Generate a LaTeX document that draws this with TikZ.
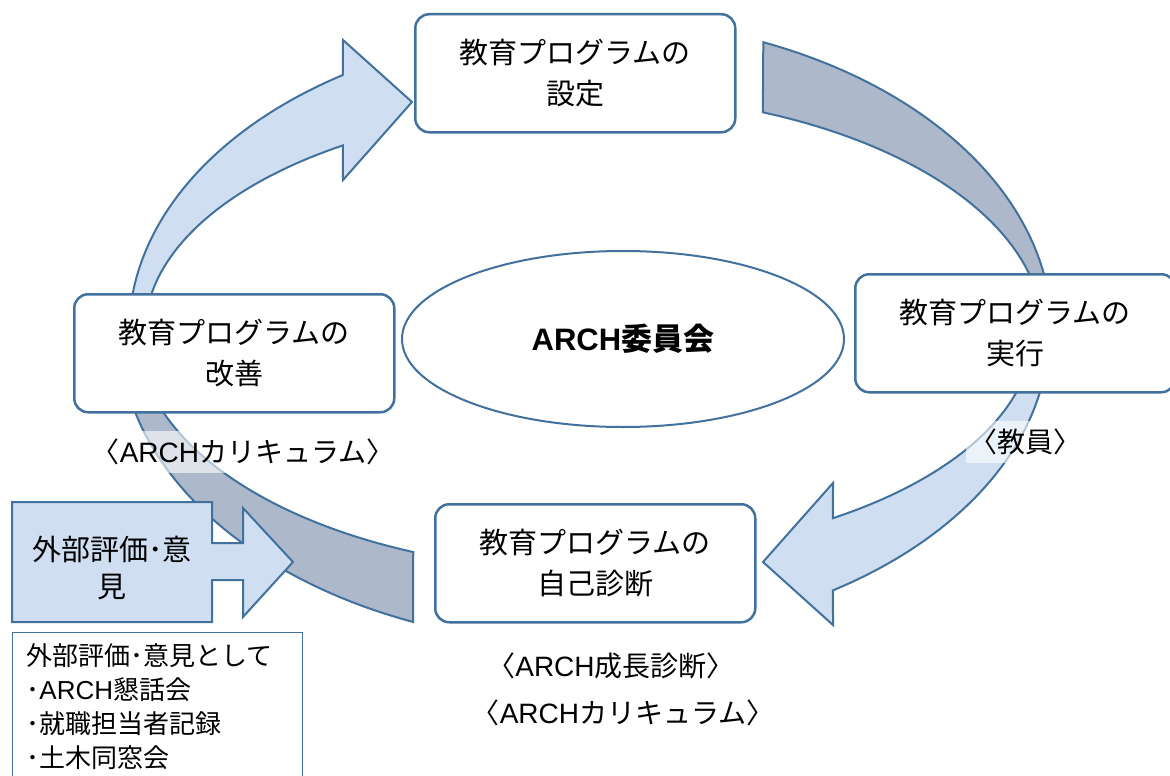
\documentclass[tikz,border=0pt]{standalone}
\usepackage{fontspec}
\setmainfont{Noto Sans CJK JP}
\newfontfamily\latin{Liberation Sans}
\newcommand{\ARCH}{{\latin ARCH}}
\usetikzlibrary{shapes.geometric}
\definecolor{trait}{RGB}{65,113,156}
\definecolor{clair}{RGB}{207,223,241}
\definecolor{fonce}{RGB}{173,185,202}
\tikzstyle{boite} = [rectangle, rounded corners=14pt, draw=trait, line width=2.5pt, fill=white, minimum width=320pt, minimum height=118pt, align=center, font=\fontsize{29}{41}\selectfont]
\tikzstyle{claire} = [draw=trait, line width=2pt, fill=clair, line join=miter]
\tikzstyle{foncee} = [draw=trait, line width=2pt, fill=fonce, line join=miter]
\tikzstyle{legende} = [font=\fontsize{28}{32}\selectfont, inner ysep=8pt, fill=white, fill opacity=0.6, text opacity=1]

\begin{document}
\begin{tikzpicture}[x=1pt, y=-1pt]
        \useasboundingbox (0,0) rectangle (1170,776);
        \clip (0,0) rectangle (1170,776);

        % fleches du cycle
        \draw [claire] plot[domain=175:122.3, samples=40] ({588+459*cos(\x)},{332-304*sin(\x)})
            -- (343,40) -- (412,102) -- (343,180)
            -- plot[domain=123.6:175, samples=40] ({588+443*cos(\x)},{332-224*sin(\x)}) -- cycle;
        \draw [foncee] plot[domain=67.8:5, samples=40] ({588+464*cos(\x)},{332-313*sin(\x)})
            -- plot[domain=5:67.4, samples=40] ({588+455*cos(\x)},{332-238*sin(\x)}) -- cycle;
        \draw [claire] plot[domain=-5:-57.9, samples=40] ({588+461*cos(\x)},{332-305*sin(\x)})
            -- (833,625) -- (763,562) -- (833,483)
            -- plot[domain=-56.6:-5, samples=40] ({588+445*cos(\x)},{332-223*sin(\x)}) -- cycle;
        \draw [foncee] plot[domain=185:248.1, samples=40] ({588+468.6*cos(\x)},{332-312.6*sin(\x)})
            -- plot[domain=247.2:185, samples=40] ({588+451*cos(\x)},{332-238.7*sin(\x)}) -- cycle;

        \node (P1) [boite, anchor=north west] at (414,13) {教育プログラムの\\設定};
        \node (P2) [boite, anchor=north west] at (854,273) {教育プログラムの\\実行};
        \node (P3) [boite, anchor=north west] at (434,503) {教育プログラムの\\自己診断};
        \node (P4) [boite, anchor=north west] at (73,293) {教育プログラムの\\改善};

        \node (C) [ellipse, draw=trait, line width=2pt, fill=white, minimum width=442pt, minimum height=176pt, font=\fontsize{31}{36}\selectfont\bfseries] at (623,339) {\ARCH 委員会};

        \node (L4) [legende] at (243,452) {〈\ARCH カリキュラム〉};
        \node (L2) [legende] at (1025,442) {〈教員〉};
        \node (L3a) [font=\fontsize{28}{32}\selectfont] at (611,666) {〈\ARCH 成長診断〉};
        \node (L3b) [font=\fontsize{28}{32}\selectfont] at (623,713) {〈\ARCH カリキュラム〉};

        % avis externes
        \draw [claire] (12,502) -- (212,502) -- (212,543) -- (243,543) -- (243,508) -- (293,562)
            -- (243,617) -- (243,580) -- (212,580) -- (212,622) -- (12,622) -- cycle;
        \node (X) [align=center, font=\fontsize{29}{37}\selectfont] at (112,568) {外部評価･意\\見};
        \node (N) [anchor=north west, draw=trait, line width=1pt, fill=white, align=left, text width=262pt, inner xsep=14pt, inner ysep=11pt, font=\fontsize{26}{34}\selectfont] at (12,632) {外部評価･意見として\\･\ARCH 懇話会\\･就職担当者記録\\･土木同窓会};

    \end{tikzpicture}
\end{document}
